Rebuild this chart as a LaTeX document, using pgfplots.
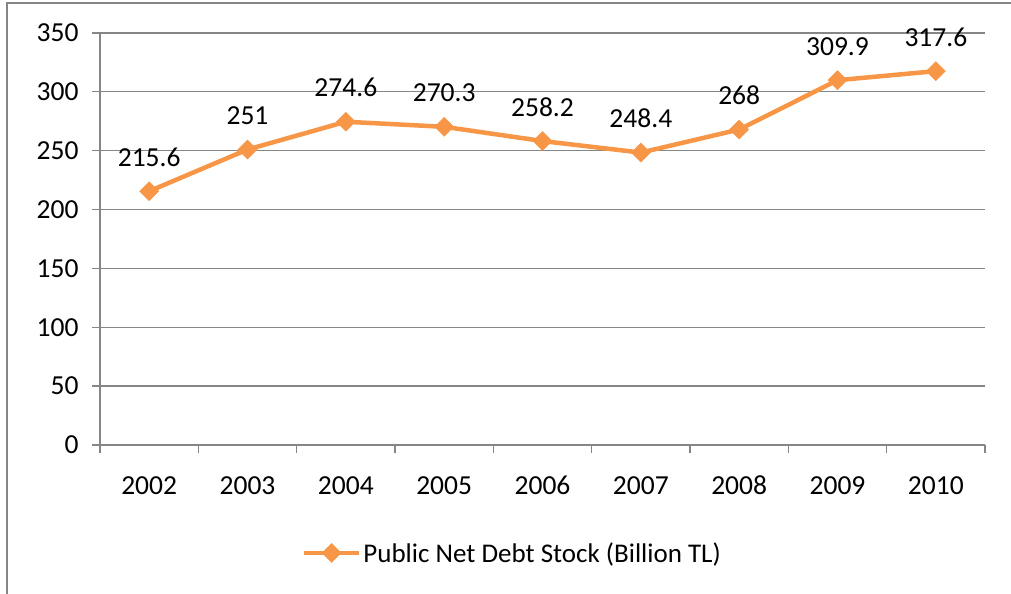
\documentclass[border=0pt]{standalone}
\usepackage{pgfplots}
\pgfplotsset{compat=1.18}
\usepackage{fontspec}
\setmainfont{Carlito}
\definecolor{lineor}{HTML}{F79646}
\definecolor{axgray}{HTML}{868686}
\begin{document}
\begin{tikzpicture}[x=1bp,y=1bp]
\path[use as bounding box] (0,0) rectangle (1011,594);
\draw[axgray, line width=2.2bp] (7,0) -- (7,591) -- (1011,591);
\begin{axis}[
  at={(100bp,149bp)}, anchor=south west,
  scale only axis, width=885bp, height=412bp,
  xmin=-0.5, xmax=8.5, ymin=0, ymax=350,
  xtick={0,...,8},
  xticklabels={2002,2003,2004,2005,2006,2007,2008,2009,2010},
  minor xtick={-0.5,0.5,...,8.5},
  ytick={0,50,...,350},
  major x tick style={draw=none},
  minor tick length=8bp, major tick length=8bp,
  tick align=outside,
  tick style={axgray, line width=1.3bp},
  axis x line*=bottom, axis y line*=left,
  axis line style={axgray, line width=1.5bp, -},
  ymajorgrids, grid style={axgray, line width=1.3bp},
  font=\fontsize{27.5bp}{33bp}\selectfont,
  /pgf/number format/assume math mode=true,
  yticklabel style={xshift=-10bp},
  xticklabel style={yshift=-20bp, text height=18bp, text depth=0bp},
  clip=false,
  legend style={at={(0.466,-0.262)}, anchor=center, draw=none, fill=none,
    font=\fontsize{27bp}{33bp}\selectfont},
  legend cell align=left,
  legend image code/.code={\draw[mark repeat=2,mark phase=2,#1] plot coordinates {(0bp,0bp)(27.5bp,0bp)(55bp,0bp)};},
]
\addplot[lineor, line width=4.5bp, mark=square*, mark size=6.7bp, mark options={rotate=45, fill=lineor, draw=lineor, line width=0.5bp},
  nodes near coords={\pgfmathprintnumber[fixed,precision=1]{\pgfplotspointmeta}},
  every node near coord/.append style={black, anchor=base, yshift=25bp, font=\fontsize{27.5bp}{33bp}\selectfont}]
  coordinates {(0,215.6) (1,251) (2,274.6) (3,270.3) (4,258.2) (5,248.4) (6,268) (7,309.9) (8,317.6)};
\addlegendentry{Public Net Debt Stock (Billion TL)}
\end{axis}
\end{tikzpicture}
\end{document}
